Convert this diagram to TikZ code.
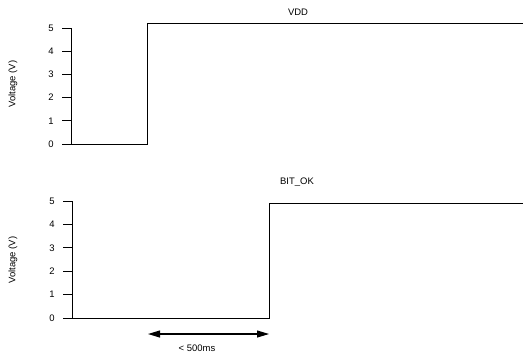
\documentclass[tikz,border=0pt]{standalone}
\usepackage{fontspec}
\setmainfont{Liberation Sans}
\usetikzlibrary{arrows.meta}
\begin{document}
\begin{tikzpicture}[x=1bp,y=-1bp,
  lbl/.style={font=\fontsize{9.5}{11}\selectfont, inner sep=0pt},
  axisline/.style={line width=0.9bp, black},
  sig/.style={line width=0.9bp, black},
  dim/.style={line width=1.1bp, {Triangle[length=12bp,width=7bp]}-{Triangle[length=12bp,width=7bp]}}]
\useasboundingbox (0,0) rectangle (523,354);
% ---------- top chart ----------
\node[lbl, rotate=90] (ylabA) at (13,84) {Voltage (V)};
\node[lbl] (titleA) at (298,12) {VDD};
\coordinate (aTop) at (71,28);
\coordinate (aBot) at (71,144);
\draw[axisline] (aTop) -- (aBot);
\foreach \v/\yy in {0/144,1/120.8,2/97.6,3/74.4,4/51.2,5/28}{
  \draw[axisline] (62,\yy) -- (71,\yy);
  \node[lbl] (ta\v) at (51,\yy) {\v};
}
\coordinate (a1) at (147,144);
\coordinate (a2) at (147,23);
\coordinate (a3) at (523,23);
\draw[sig] (aBot) -- (a1) -- (a2) -- (a3);
% ---------- bottom chart ----------
\node[lbl, rotate=90] (ylabB) at (13,260) {Voltage (V)};
\node[lbl] (titleB) at (297,182) {BIT\_OK};
\coordinate (bTop) at (72,201);
\coordinate (bBot) at (72,318);
\draw[axisline] (bTop) -- (bBot);
\foreach \v/\yy in {0/318,1/294.6,2/271.2,3/247.8,4/224.4,5/201}{
  \draw[axisline] (63,\yy) -- (72,\yy);
  \node[lbl] (tb\v) at (52,\yy) {\v};
}
\coordinate (b1) at (269,318);
\coordinate (b2) at (269,203);
\coordinate (b3) at (523,203);
\draw[sig] (bBot) -- (b1) -- (b2) -- (b3);
% ---------- dimension ----------
\coordinate (dL) at (148,334);
\coordinate (dR) at (269,334);
\draw[dim] (dL) -- (dR);
\node[lbl] (dimlab) at (197,348) {< 500ms};
\end{tikzpicture}
\end{document}
